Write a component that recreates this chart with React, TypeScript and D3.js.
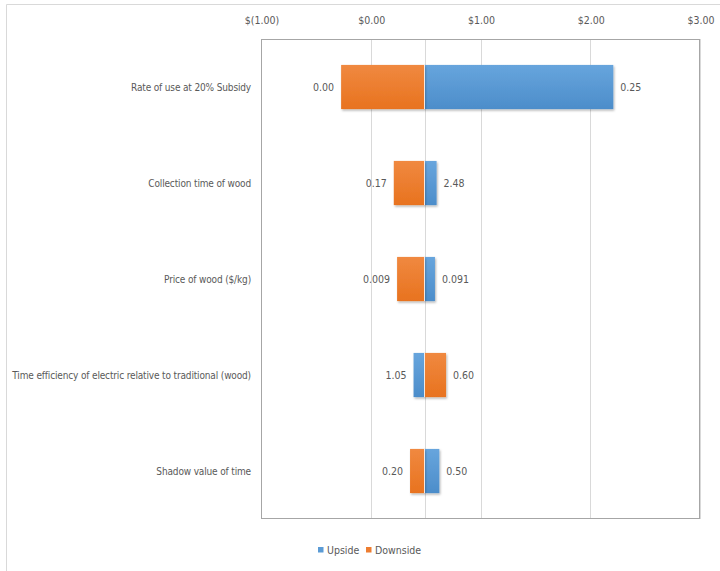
import React from "react";
import * as d3 from "d3";

const categories = [
  "Rate of use at 20% Subsidy",
  "Collection time of wood",
  "Price of wood ($/kg)",
  "Time efficiency of electric relative to traditional (wood)",
  "Shadow value of time",
];
const baseValue = 0.49;
const upsideValues = [2.21, 0.6, 0.585, 0.39, 0.625];
const downsideValues = [-0.27, 0.21, 0.24, 0.686, 0.358];
const upsideLabels = ["0.25", "2.48", "0.091", "1.05", "0.50"];
const downsideLabels = ["0.00", "0.17", "0.009", "0.60", "0.20"];
const tickValues = [-1, 0, 1, 2, 3];
const seriesNames = ["Upside", "Downside"];

const W = 720;
const H = 571;
const plot = { left: 261, right: 700, top: 39, bottom: 519 };
const BLUE = "#5b9bd5";
const ORANGE = "#ed7d31";
const FONT = "'DejaVu Sans Condensed', 'Liberation Sans Narrow', Arial, sans-serif";
const TEXT = "#595959";

const fmt = (v: number) =>
  v < 0 ? `$(${Math.abs(v).toFixed(2)})` : `$${v.toFixed(2)}`;

export default function App() {
  const x = d3.scaleLinear().domain([-1, 3]).range([plot.left, plot.right]);
  const y = d3
    .scaleBand<string>()
    .domain(categories)
    .range([plot.top, plot.bottom])
    .paddingInner(0.54)
    .paddingOuter(0.27);
  const bh = y.bandwidth();

  const bars: any[] = [];
  categories.forEach((c, i) => {
    const series = [
      { v: upsideValues[i], label: upsideLabels[i], color: "blue" },
      { v: downsideValues[i], label: downsideLabels[i], color: "orange" },
    ];
    series.forEach((s) => {
      const x0 = Math.min(x(baseValue), x(s.v));
      const x1 = Math.max(x(baseValue), x(s.v));
      bars.push({ ...s, c, x0, x1, left: s.v < baseValue });
    });
  });

  return (
    <svg
      width={W}
      height={H}
      style={{ position: "absolute", left: 0, top: 0, background: "#fff" }}
      fontFamily={FONT}
    >
      <defs>
        <linearGradient id="gBlue" x1="0" y1="0" x2="0" y2="1">
          <stop offset="0" stopColor="#67a5dd" />
          <stop offset="1" stopColor="#4c8dca" />
        </linearGradient>
        <linearGradient id="gOrange" x1="0" y1="0" x2="0" y2="1">
          <stop offset="0" stopColor="#f08940" />
          <stop offset="1" stopColor="#e8731f" />
        </linearGradient>
        <filter id="shadow" x="-10%" y="-10%" width="130%" height="140%">
          <feDropShadow dx="1" dy="1.5" stdDeviation="1" floodColor="#000" floodOpacity="0.3" />
        </filter>
      </defs>
      {/* outer frame */}
      <line x1={6.5} y1={4.5} x2={W} y2={4.5} stroke="#d9d9d9" />
      <line x1={6.5} y1={4.5} x2={6.5} y2={H} stroke="#d9d9d9" />

      {/* gridlines */}
      {tickValues.map((t) => (
        <line
          key={t}
          x1={Math.round(x(t)) + 0.5}
          x2={Math.round(x(t)) + 0.5}
          y1={plot.top}
          y2={plot.bottom}
          stroke="#d9d9d9"
        />
      ))}
      <line
        x1={Math.round(x(baseValue)) + 0.5}
        x2={Math.round(x(baseValue)) + 0.5}
        y1={plot.top}
        y2={plot.bottom}
        stroke="#d9d9d9"
      />
      {/* plot border */}
      <rect
        x={plot.left + 0.5}
        y={plot.top + 0.5}
        width={plot.right - plot.left - 1}
        height={plot.bottom - plot.top - 1}
        fill="none"
        stroke="#a6a6a6"
      />

      {/* top axis labels */}
      {tickValues.map((t) => (
        <text
          key={t}
          x={x(t) + 1}
          y={20}
          textAnchor="middle"
          dominantBaseline="central"
          fontSize={10.5}
          fill={TEXT}
        >
          {fmt(t)}
        </text>
      ))}

      {/* category labels */}
      {categories.map((c) => (
        <text
          key={c}
          x={plot.left - 10}
          y={(y(c) as number) + bh / 2}
          textAnchor="end"
          dominantBaseline="central"
          fontSize={10}
          letterSpacing={-0.15}
          fill={TEXT}
        >
          {c}
        </text>
      ))}

      {/* bars */}
      {bars.map((b, i) => (
        <rect
          key={i}
          x={b.x0}
          y={y(b.c)}
          width={b.x1 - b.x0}
          height={bh}
          fill={b.color === "blue" ? "url(#gBlue)" : "url(#gOrange)"}
          filter="url(#shadow)"
        />
      ))}
      {/* white separator at base */}
      {categories.map((c) => (
        <line
          key={c}
          x1={x(baseValue)}
          x2={x(baseValue)}
          y1={y(c)}
          y2={(y(c) as number) + bh}
          stroke="#ffffff"
          strokeWidth={1}
          opacity={0.8}
        />
      ))}
      {/* value labels */}
      {bars.map((b, i) => (
        <text
          key={i}
          x={b.left ? b.x0 - 7 : b.x1 + 7}
          y={(y(b.c) as number) + bh / 2}
          textAnchor={b.left ? "end" : "start"}
          dominantBaseline="central"
          fontSize={10.5}
          fill={TEXT}
        >
          {b.label}
        </text>
      ))}

      {/* legend */}
      {seriesNames.map((s, i) => {
        const lx = [318, 366][i];
        return (
          <g key={s}>
            <rect x={lx} y={547} width={5.5} height={5.5} fill={i === 0 ? BLUE : ORANGE} />
            <text
              x={lx + 9}
              y={550}
              dominantBaseline="central"
              fontSize={10.5}
              fill={TEXT}
            >
              {s}
            </text>
          </g>
        );
      })}
    </svg>
  );
}
